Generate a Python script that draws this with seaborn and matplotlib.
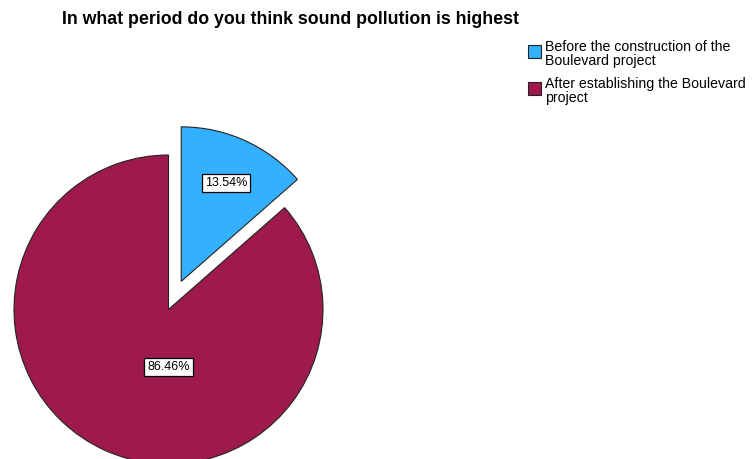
import matplotlib
matplotlib.use("Agg")
import matplotlib.pyplot as plt
import matplotlib.patches as mpatches
import seaborn as sns

# Survey responses (percent of respondents)
categories = ["Before the construction of the\nBoulevard project",
              "After establishing the Boulevard\nproject"]
shares = [13.54, 86.46]
colors = ["#33B0FF", "#9E1A4C"]
explode = [0.2, 0.0]
title = "In what period do you think sound pollution is highest"

sns.set_theme(style="white")
plt.rcParams["font.family"] = ["Liberation Sans", "DejaVu Sans"]
plt.rcParams["text.color"] = "black"

W, H = 753, 459
fig = plt.figure(figsize=(W / 100, H / 100), dpi=100)

# Pie centre and radius in pixels; axes sized so that one data unit = R pixels
cx, cy, R = 168.5, 309.5, 154.5
lim = 1.35
side = 2 * lim * R
ax = fig.add_axes([(cx - side / 2) / W, (H - cy - side / 2) / H, side / W, side / H])

wedges, texts, autotexts = ax.pie(
    shares, colors=colors, explode=explode, startangle=90, counterclock=False,
    autopct=lambda p: f"{p:.2f}%", pctdistance=0.7,
    wedgeprops=dict(edgecolor="#222222", linewidth=0.8),
    textprops=dict(fontsize=9, color="black"),
)
for t in autotexts:
    t.set_bbox(dict(boxstyle="square,pad=0.25", facecolor="white", edgecolor="black", linewidth=0.9))
# large slice label sits below the centre
autotexts[1].set_position((0.0, -0.37))

ax.set_xlim(-lim, lim)
ax.set_ylim(-lim, lim)
ax.set_aspect("equal")
ax.axis("off")

fig.text(290 / W, 1 - 20 / H, title, ha="center", va="center",
         fontsize=12.8, fontweight="bold", color="black")

# Legend: swatch aligned with the first line of each wrapped label
legend_tops = [40, 77]
for top, color, label in zip(legend_tops, colors, categories):
    fig.patches.append(mpatches.Rectangle(
        (528 / W, 1 - (top + 18) / H), 13 / W, 13 / H, transform=fig.transFigure,
        facecolor=color, edgecolor="#222222", linewidth=0.8))
    fig.text(545 / W, 1 - top / H, label, ha="left", va="top",
             fontsize=10.2, linespacing=1.03, color="black")

fig.savefig("out.png", dpi=100)
